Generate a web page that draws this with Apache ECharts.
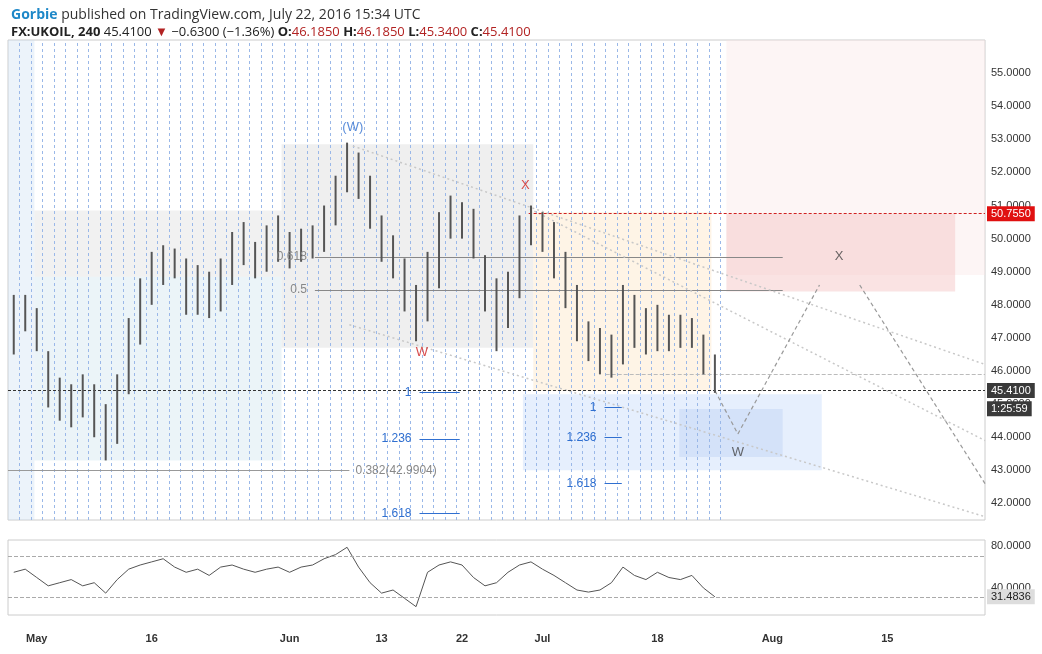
<!DOCTYPE html>
<html><head><meta charset="utf-8">
<script src="https://cdn.jsdelivr.net/npm/echarts@6/dist/echarts.min.js"></script>
<style>html,body{margin:0;padding:0;background:#fff}#c{width:1042px;height:654px}</style>
</head><body><div id="c"></div>
<script>
// trading-day index (0 = May 2, 2016)
const dayIdx = [-2,-1,0,1,2,3,4,5,6,7,8,9,10,11,12,13,14,15,16,17,18,19,20,21,22,23,24,25,26,27,28,29,30,31,32,33,34,35,36,37,38,39,40,41,42,43,44,45,46,47,48,49,50,51,52,53,54,55,56,57,58,59];
const highs = [48.3,48.3,47.9,46.6,45.8,45.6,45.9,45.6,45.0,45.9,47.6,48.8,49.6,49.8,49.7,49.4,49.2,49.0,49.4,50.2,50.5,49.9,50.4,50.7,50.2,50.3,50.4,51.0,51.9,52.9,52.6,51.9,50.7,50.1,49.4,48.6,49.6,50.8,51.3,51.1,50.9,49.5,48.8,49.0,50.7,51.0,50.8,50.5,49.6,48.6,47.5,47.3,47.1,48.6,48.3,47.9,48.0,47.7,47.7,47.6,47.1,46.5];
const lows = [46.5,47.2,46.6,44.9,44.5,44.3,44.6,44.0,43.3,43.8,45.3,46.8,48.0,48.6,48.8,47.7,47.7,47.6,47.8,48.6,49.2,48.8,49.0,49.3,49.1,49.3,49.4,49.6,50.4,51.4,51.2,50.3,49.3,48.8,47.8,46.9,47.5,48.5,50.0,50.0,49.4,47.8,46.6,47.3,48.2,49.8,49.6,48.8,47.9,46.9,46.3,45.9,45.8,46.2,46.7,46.5,46.6,46.6,46.7,46.7,45.9,45.34];
const rsi = [55,58,50,42,45,48,42,45,35,48,58,62,65,68,60,55,58,52,60,62,58,55,58,60,55,60,62,68,72,79,60,45,35,38,30,22,55,62,65,62,50,42,45,55,62,65,58,52,45,38,36,38,45,60,52,48,55,50,48,52,40,31.48];
const tickIdx = [0,10,22,30,37,44,54,64,74];
const tickLabels = ['May','16','Jun','13','22','Jul','18','Aug','15'];
const priceTicks = [42,43,44,45,46,47,48,49,50,51,52,53,54,55];
const lastPrice = 45.41, redLevel = 50.755, lastRsi = 31.4836;

const ohlc = dayIdx.map((d,i)=>[d,highs[i],lows[i]]);
const gridLines = [];
for (let k=-2;k<=59;k++) gridLines.push({xAxis:k+0.5});

const blue='#2f6fd0', red='#d02020', dark='#444', clear='rgba(0,0,0,0)';
function seg(x1,y1,x2,y2,style,label){const o=[{coord:[x1,y1]},{coord:[x2,y2]}]; if(style)o[0].lineStyle=style; if(label)o[0].label=label; return o;}
function fib(x1,x2,y,text,col,pos){return [{coord:[x1,y],lineStyle:{color:col,type:'solid',width:1},label:{show:true,position:pos||'start',formatter:text,color:col,fontSize:12,distance:8}},{coord:[x2,y]}];}
function tag(y,text,bg,fg,style){return [{coord:[-2.5,y],lineStyle:style,label:{show:true,position:'end',formatter:text,color:fg,backgroundColor:bg,padding:[2,4],fontSize:11,distance:2}},{coord:[82.5,y]}];}

const option = {
  animation:false,
  backgroundColor:'#fff',
  title:[
    {left:6,top:3,text:'{b|Gorbie} published on TradingView.com, July 22, 2016 15:34 UTC',
     textStyle:{fontSize:14,fontWeight:'normal',color:'#333',fontFamily:'Open Sans',rich:{b:{color:'#1e88c8',fontWeight:'bold',fontSize:14,fontFamily:'Open Sans'}}}},
    {left:6,top:21,text:'{k|FX:UKOIL, 240} 45.4100 {r|▼} −0.6300 (−1.36%) {k|O:}{r|46.1850} {k|H:}{r|46.1850} {k|L:}{r|45.3400} {k|C:}{r|45.4100}',
     textStyle:{fontSize:13,fontWeight:'normal',color:'#222',fontFamily:'Open Sans',rich:{k:{fontWeight:'bold',color:'#222',fontSize:13},r:{color:'#b22222',fontSize:13}}}}
  ],
  grid:[
    {left:8,right:57,top:40,height:480,show:true,borderColor:'#ccc',borderWidth:1},
    {left:8,right:57,top:540,height:75,show:true,borderColor:'#ccc',borderWidth:1}
  ],
  xAxis:[
    {type:'value',gridIndex:0,min:-2.5,max:82.5,interval:0.5,axisLabel:{show:false},axisTick:{show:false},axisLine:{show:false},splitLine:{show:false}},
    {type:'value',gridIndex:1,min:-2.5,max:82.5,interval:0.5,axisTick:{show:false},axisLine:{show:false},splitLine:{show:false},
     axisLabel:{margin:18,color:'#333',fontSize:11,fontWeight:'bold',hideOverlap:false,showMinLabel:true,showMaxLabel:true,
       formatter:v=>{const i=tickIdx.indexOf(v);return i>=0?tickLabels[i]:'';}}}
  ],
  yAxis:[
    {type:'value',gridIndex:0,position:'right',min:41.5,max:56,interval:0.5,axisLine:{show:false},axisTick:{show:false},splitLine:{show:false},
     axisLabel:{color:'#333',fontSize:11,margin:6,formatter:v=>priceTicks.includes(v)?v.toFixed(4):''}},
    {type:'value',gridIndex:1,position:'right',min:14,max:86,interval:2,axisLine:{show:false},axisTick:{show:false},splitLine:{show:false},
     axisLabel:{color:'#333',fontSize:11,margin:6,formatter:v=>(v===40||v===80)?v.toFixed(4):''}}
  ],
  series:[
    {type:'line',xAxisIndex:0,yAxisIndex:0,data:[],silent:true,
     markArea:{silent:true,data:[
       [{xAxis:-2.5,yAxis:41.5,itemStyle:{color:'rgba(200,220,240,0.35)'}},{xAxis:-0.2,yAxis:56}],
       [{xAxis:60,yAxis:48.9,itemStyle:{color:'rgba(250,225,225,0.35)'}},{xAxis:82.5,yAxis:56}],
       [{xAxis:-0.2,yAxis:48.85,itemStyle:{color:'rgba(225,225,225,0.45)'}},{xAxis:21.3,yAxis:50.85}],
       [{xAxis:-0.2,yAxis:43.3,itemStyle:{color:'rgba(210,230,240,0.45)'}},{xAxis:21.3,yAxis:48.85}],
       [{xAxis:21.3,yAxis:46.7,itemStyle:{color:'rgba(215,215,215,0.4)'}},{xAxis:43.2,yAxis:52.85}],
       [{xAxis:43.2,yAxis:45.4,itemStyle:{color:'rgba(252,230,200,0.45)'}},{xAxis:58.7,yAxis:50.8}],
       [{xAxis:42.3,yAxis:43.0,itemStyle:{color:'rgba(200,220,250,0.45)'}},{xAxis:68.3,yAxis:45.3}],
       [{xAxis:55.9,yAxis:43.4,itemStyle:{color:'rgba(190,210,245,0.45)'}},{xAxis:64.9,yAxis:44.85}],
       [{xAxis:60,yAxis:48.4,itemStyle:{color:'rgba(245,200,200,0.5)'}},{xAxis:79.9,yAxis:50.75}]
     ]},
     markLine:{silent:true,symbol:'none',label:{show:false},lineStyle:{color:'#9ab8e8',type:[3,3],width:1},data:gridLines.map(g=>[{coord:[g.xAxis,41.5]},{coord:[g.xAxis,56]}])}
    },
    {type:'custom',xAxisIndex:0,yAxisIndex:0,data:ohlc,z:5,
     renderItem:(p,api)=>{const x=api.value(0);const a=api.coord([x,api.value(1)]),b=api.coord([x,api.value(2)]);
       return {type:'line',shape:{x1:a[0],y1:a[1],x2:b[0],y2:b[1]},style:{stroke:'#555',lineWidth:2}};}},
    {type:'line',xAxisIndex:0,yAxisIndex:0,data:[],silent:true,z:6,
     markLine:{silent:true,symbol:'none',label:{show:false},data:[
       fib(24.2,64.9,49.45,'0.618','#888'),
       fib(24.2,64.9,48.45,'0.5','#888'),
       fib(33.3,36.8,45.35,'1',blue),
       fib(33.3,36.8,43.95,'1.236',blue),
       fib(33.3,36.8,41.7,'1.618',blue),
       fib(49.4,50.9,44.9,'1',blue),
       fib(49.4,50.9,44.0,'1.236',blue),
       fib(49.4,50.9,42.6,'1.618',blue),
       [{coord:[-2.5,42.99],lineStyle:{color:'#999',type:'solid',width:1},label:{show:true,position:'end',formatter:'0.382(42.9904)',color:'#888',fontSize:12,distance:6}},{coord:[27.2,42.99]}],
       seg(49.5,45.9,82.5,45.9,{color:'#bbb',type:'dashed',width:1}),
       seg(27.5,52.8,82.5,46.2,{color:'#c8c8c8',type:[2,3],width:1.5}),
       seg(42.9,50.9,82.5,43.9,{color:'#c8c8c8',type:[2,3],width:1.5}),
       seg(27.2,47.4,82.5,41.6,{color:'#c8c8c8',type:[2,3],width:1.5}),
       seg(59,45.41,61,44.1,{color:'#999',type:[4,3],width:1.2}),
       seg(61,44.1,68.1,48.6,{color:'#999',type:[4,3],width:1.2}),
       seg(71.6,48.6,82.5,42.6,{color:'#999',type:[4,3],width:1.2}),
       [{coord:[42.8,redLevel],lineStyle:{color:red,type:[3,2],width:1},label:{show:true,position:'end',formatter:'50.7550',color:'#fff',backgroundColor:'#e01010',padding:[2,4],fontSize:11,distance:2}},{coord:[82.5,redLevel]}],
       tag(lastPrice,'45.4100','#3a3a3a','#fff',{color:'#333',type:[3,2],width:1}),
       tag(lastPrice-0.55,'1:25:59','#3a3a3a','#fff',{color:clear,width:0})
     ]}},
    {type:'scatter',xAxisIndex:0,yAxisIndex:0,symbolSize:0,z:7,silent:true,
     label:{show:true,position:'inside',fontSize:13},
     data:[
       {value:[27.5,53.35],label:{formatter:'(W)',color:blue}},
       {value:[42.5,51.6],label:{formatter:'X',color:red}},
       {value:[33.5,46.55],label:{formatter:'W',color:red}},
       {value:[69.8,49.45],label:{formatter:'X',color:dark}},
       {value:[61,43.55],label:{formatter:'W',color:dark}}
     ]},
    {type:'line',xAxisIndex:1,yAxisIndex:1,data:dayIdx.map((d,i)=>[d,rsi[i]]),symbol:'none',lineStyle:{color:'#555',width:1},
     markLine:{silent:true,symbol:'none',data:[
       {yAxis:70,lineStyle:{color:'#aaa',type:'dashed',width:1},label:{show:false}},
       {yAxis:lastRsi,lineStyle:{color:'#aaa',type:'dashed',width:1},label:{show:true,position:'end',formatter:'31.4836',color:'#222',backgroundColor:'#ddd',padding:[2,4],fontSize:11,distance:2}}
     ]}}
  ]
};
echarts.init(document.getElementById('c')).setOption(option);
</script></body></html>
